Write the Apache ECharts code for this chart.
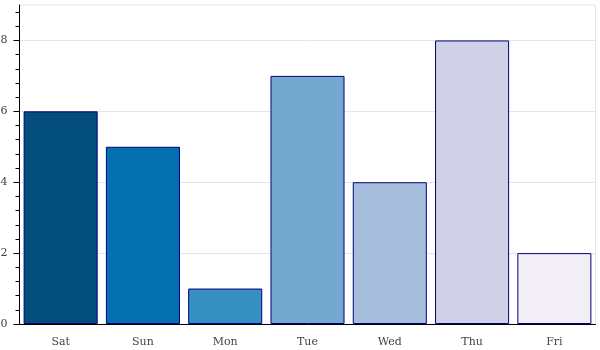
<!DOCTYPE html>
<html>
<head>
<meta charset="utf-8">
<script src="https://cdn.jsdelivr.net/npm/echarts@6/dist/echarts.min.js"></script>
<style>
  html, body { margin: 0; padding: 0; background: #fff; }
  #chart { width: 600px; height: 350px; }
</style>
</head>
<body>
<div id="chart"></div>
<script>
// Days of the week and the value for each one
const days = ['Sat', 'Sun', 'Mon', 'Tue', 'Wed', 'Thu', 'Fri'];
const counts = [6, 5, 1, 7, 4, 8, 2];
// PuBu7 palette, one colour per day
const palette = ['#034e7b', '#0570b0', '#3690c0', '#74a9cf', '#a6bddb', '#d0d1e6', '#f1eef6'];
// Value axis ticks
const yMajorTicks = [0, 2, 4, 6, 8];
const yMinorTicks = [];
for (let i = 0; i < 8; i += 2) {
  for (let k = 1; k < 5; k++) yMinorTicks.push(+(i + k * 0.4).toFixed(1));
}
yMinorTicks.push(8.4, 8.8);

const labelFont = { color: '#444', fontSize: 11, fontFamily: 'DejaVu Serif' };

const chart = echarts.init(document.getElementById('chart'), null, { renderer: 'canvas' });
chart.setOption({
  animation: false,
  grid: {
    left: 19.5, right: 4.5, top: 5, bottom: 26,
    outerBoundsMode: 'none',
    containLabel: false,
    show: true, borderColor: '#e5e5e5', borderWidth: 1, backgroundColor: 'transparent'
  },
  xAxis: {
    type: 'category',
    data: days,
    axisLine: { lineStyle: { color: '#000', width: 1 } },
    axisTick: { alignWithLabel: true, length: 6, lineStyle: { color: '#000' } },
    axisLabel: Object.assign({ margin: 13 }, labelFont),
    splitLine: { show: false }
  },
  yAxis: [{
    type: 'value',
    min: 0, max: 9, interval: 2,
    axisLine: { show: true, lineStyle: { color: '#000', width: 1 } },
    axisTick: { show: true, length: 6, customValues: yMajorTicks, lineStyle: { color: '#000' } },
    axisLabel: Object.assign({ margin: 12, customValues: yMajorTicks }, labelFont),
    splitLine: { show: true, lineStyle: { color: '#e5e5e5', width: 1 } }
  }, {
    type: 'value',
    position: 'left',
    min: 0, max: 9,
    axisLine: { show: false },
    axisTick: { show: true, length: 4, customValues: yMinorTicks, lineStyle: { color: '#000' } },
    axisLabel: { show: false },
    splitLine: { show: false }
  }],
  series: [{
    type: 'bar',
    yAxisIndex: 0,
    barCategoryGap: '10%',
    data: counts.map((v, i) => ({
      value: v,
      itemStyle: { color: palette[i] }
    })),
    itemStyle: { borderColor: '#000080', borderWidth: 1 }
  }]
});
</script>
</body>
</html>
